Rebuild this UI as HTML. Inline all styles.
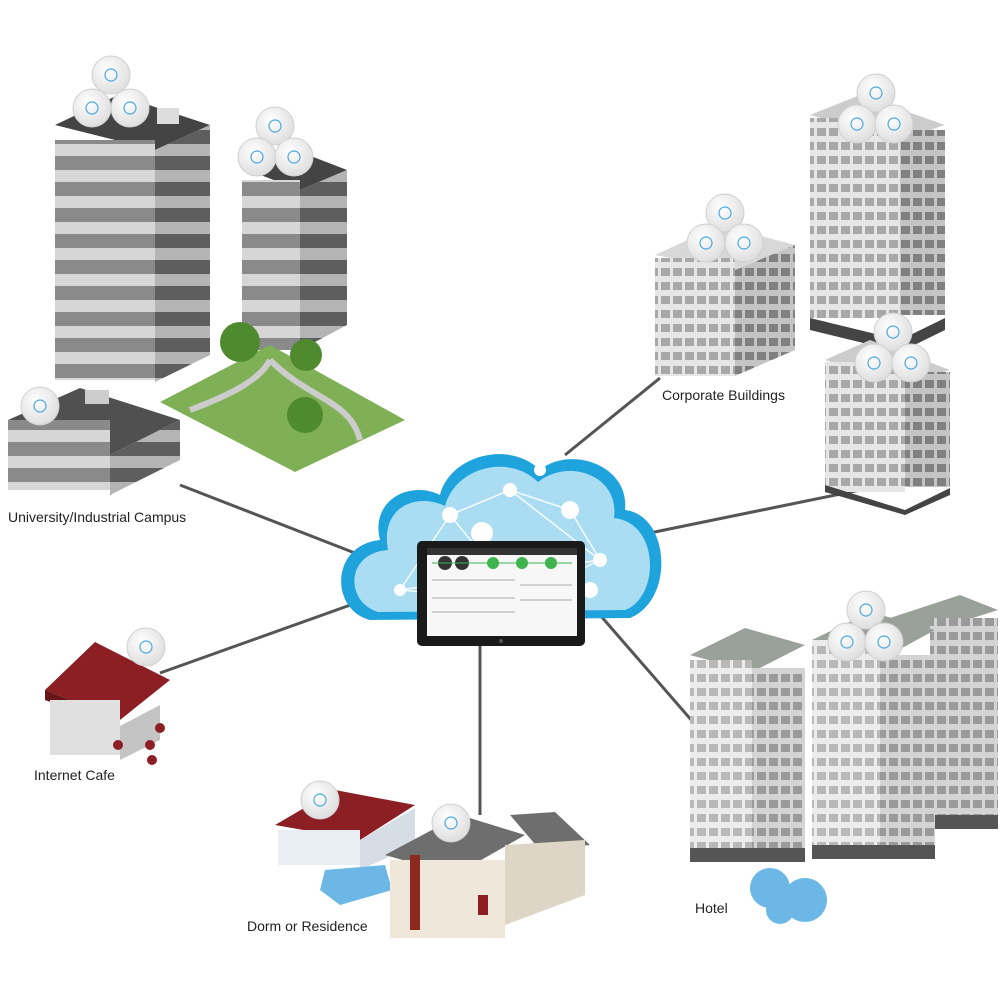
<!DOCTYPE html>
<html><head><meta charset="utf-8"><style>
html,body{margin:0;padding:0;background:#fff;}
svg{display:block;}
text{font-family:"Liberation Sans",sans-serif;font-size:14px;fill:#222;}
</style></head><body>
<svg width="1000" height="1000" viewBox="0 0 1000 1000" xmlns="http://www.w3.org/2000/svg">
<defs>
<pattern id="stripeA" width="10" height="26" patternUnits="userSpaceOnUse"><rect width="10" height="26" fill="#8a8a8a"/><rect y="14" width="10" height="12" fill="#d6d6d6"/></pattern>
<pattern id="stripeB" width="10" height="26" patternUnits="userSpaceOnUse"><rect width="10" height="26" fill="#5e5e5e"/><rect y="14" width="10" height="12" fill="#b4b4b4"/></pattern>
<pattern id="grid" width="12" height="14" patternUnits="userSpaceOnUse"><rect width="12" height="14" fill="#e6e6e6"/><rect x="1" y="2" width="9" height="8" fill="#a8a8a8"/></pattern>
<pattern id="gridD" width="12" height="14" patternUnits="userSpaceOnUse"><rect width="12" height="14" fill="#c4c4c4"/><rect x="1" y="2" width="9" height="8" fill="#808080"/></pattern>
<pattern id="gridL" width="12" height="14" patternUnits="userSpaceOnUse"><rect width="12" height="14" fill="#ececec"/><rect x="1" y="2" width="9" height="8" fill="#b8b8b8"/></pattern>
<pattern id="gridLD" width="12" height="14" patternUnits="userSpaceOnUse"><rect width="12" height="14" fill="#d4d4d4"/><rect x="1" y="2" width="9" height="8" fill="#9a9a9a"/></pattern>
<radialGradient id="apg" cx="0.4" cy="0.35" r="0.7"><stop offset="0" stop-color="#ffffff"/><stop offset="1" stop-color="#dcdcdc"/></radialGradient>
<g id="ap"><circle r="19" fill="url(#apg)" stroke="#d0d0d0" stroke-width="1"/><circle r="6" fill="none" stroke="#4aa8e0" stroke-width="1.2"/></g>
</defs>
<g stroke="#555" stroke-width="3" fill="none">
<line x1="180" y1="485" x2="360" y2="555"/>
<line x1="160" y1="673" x2="370" y2="598"/>
<line x1="480" y1="640" x2="480" y2="815"/>
<line x1="600" y1="615" x2="693" y2="722"/>
<line x1="565" y1="455" x2="660" y2="378"/>
<line x1="640" y1="535" x2="860" y2="490"/>
</g>
<g>
<path d="M370,620 C330,610 330,545 380,540 C370,500 410,480 440,495 C450,455 510,440 540,470 C570,445 630,465 625,510 C670,515 675,600 630,618 Z" fill="#1fa3dc"/>
<path d="M378,612 C345,602 345,553 388,550 C380,508 415,492 445,506 C456,466 510,454 538,482 C568,458 620,475 614,518 C660,523 660,597 625,610 Z" fill="#aadcf2"/>
<g stroke="#fff" stroke-width="1.5" fill="none" opacity="0.9"><path d="M400,590 L450,515 L510,490 L570,510 L600,560 L520,600 Z M450,515 L520,600 M510,490 L600,560 M400,590 L600,560"/></g>
<g fill="#fff"><circle cx="450" cy="515" r="8"/><circle cx="510" cy="490" r="7"/><circle cx="570" cy="510" r="9"/><circle cx="482" cy="533" r="11"/><circle cx="400" cy="590" r="6"/><circle cx="600" cy="560" r="7"/><circle cx="540" cy="470" r="6"/><circle cx="590" cy="590" r="8"/></g>
</g>
<rect x="417" y="541" width="168" height="105" rx="5" fill="#1a1a1a"/>
<rect x="427" y="548" width="150" height="88" fill="#f7f7f7"/>
<rect x="427" y="548" width="150" height="7" fill="#333"/>
<circle cx="445" cy="563" r="7" fill="#333"/><circle cx="462" cy="563" r="7" fill="#333"/>
<circle cx="493" cy="563" r="6" fill="#3fb34f"/><circle cx="522" cy="563" r="6" fill="#3fb34f"/><circle cx="551" cy="563" r="6" fill="#3fb34f"/>
<line x1="432" y1="563" x2="572" y2="563" stroke="#3fb34f" stroke-width="1"/>
<g stroke="#aaa" stroke-width="1"><line x1="432" y1="580" x2="515" y2="580"/><line x1="432" y1="598" x2="515" y2="598"/><line x1="432" y1="612" x2="515" y2="612"/><line x1="520" y1="585" x2="572" y2="585"/><line x1="520" y1="600" x2="572" y2="600"/></g>
<circle cx="501" cy="641" r="2" fill="#555"/>
<polygon points="55,125 118,95 210,125 155,150" fill="#444"/>
<rect x="55" y="140" width="100" height="240" fill="url(#stripeA)"/>
<polygon points="155,150 210,125 210,355 155,382" fill="url(#stripeB)"/>
<rect x="157" y="108" width="22" height="16" fill="#ddd"/>
<polygon points="242,168 290,148 347,170 300,190" fill="#444"/>
<rect x="242" y="180" width="58" height="170" fill="url(#stripeA)"/>
<polygon points="300,190 347,170 347,325 300,350" fill="url(#stripeB)"/>
<polygon points="160,402 270,345 405,420 295,472" fill="#7fb055"/>
<path d="M190,410 C230,395 260,380 270,360 M270,360 C310,400 350,400 360,440" stroke="#ccc" stroke-width="6" fill="none"/>
<g fill="#4f8a2f"><circle cx="240" cy="342" r="20"/><circle cx="306" cy="355" r="16"/><circle cx="305" cy="415" r="18"/></g>
<polygon points="8,420 80,388 180,420 110,455" fill="#505050"/>
<rect x="8" y="420" width="102" height="70" fill="url(#stripeA)"/>
<polygon points="110,455 180,420 180,460 110,495" fill="url(#stripeB)"/>
<rect x="85" y="390" width="24" height="14" fill="#ccc"/>
<polygon points="655,255 720,225 795,245 735,270" fill="#d8d8d8"/>
<rect x="655" y="258" width="80" height="118" fill="url(#grid)"/>
<polygon points="735,270 795,245 795,350 735,376" fill="url(#gridD)"/>
<polygon points="810,115 860,95 945,125 900,140" fill="#ccc"/>
<rect x="810" y="118" width="90" height="200" fill="url(#grid)"/>
<rect x="900" y="130" width="45" height="185" fill="url(#gridD)"/>
<polygon points="810,318 900,340 945,318 945,330 900,352 810,330" fill="#444"/>
<polygon points="825,360 870,340 950,370 905,385" fill="#ccc"/>
<rect x="825" y="362" width="80" height="130" fill="url(#grid)"/>
<rect x="905" y="372" width="45" height="115" fill="url(#gridD)"/>
<polygon points="825,485 905,510 950,488 950,495 905,515 825,492" fill="#444"/>
<polygon points="690,655 745,628 805,645 752,672" fill="#9aa09a"/>
<rect x="690" y="660" width="62" height="190" fill="url(#gridL)"/>
<rect x="752" y="668" width="53" height="180" fill="url(#gridLD)"/>
<rect x="690" y="848" width="115" height="14" fill="#555"/>
<polygon points="890,618 960,595 998,610 935,630" fill="#9aa09a"/>
<rect x="930" y="618" width="68" height="200" fill="url(#gridLD)"/>
<rect x="930" y="815" width="68" height="14" fill="#555"/>
<polygon points="812,640 870,612 935,630 880,660" fill="#9aa09a"/>
<rect x="812" y="640" width="68" height="205" fill="url(#gridL)"/>
<rect x="880" y="655" width="55" height="190" fill="url(#gridLD)"/>
<rect x="812" y="845" width="123" height="14" fill="#555"/>
<g fill="#6cb7e5"><circle cx="770" cy="888" r="20"/><circle cx="805" cy="900" r="22"/><circle cx="780" cy="910" r="14"/></g>
<polygon points="45,690 95,642 170,680 120,720" fill="#8c1f24"/>
<polygon points="45,690 120,720 120,728 45,700" fill="#6a1519"/>
<rect x="50" y="700" width="70" height="55" fill="#e0e0e0"/>
<polygon points="120,726 160,705 160,740 120,760" fill="#c4c4c4"/>
<g fill="#8c1f24"><circle cx="118" cy="745" r="5"/><circle cx="150" cy="745" r="5"/><circle cx="152" cy="760" r="5"/><circle cx="160" cy="728" r="5"/></g>
<polygon points="275,825 335,790 415,805 360,840" fill="#8c1f24"/>
<rect x="278" y="830" width="82" height="35" fill="#e8eef4"/>
<polygon points="360,840 415,808 415,845 360,870" fill="#d6dde4"/>
<polygon points="325,870 385,865 392,890 340,905 320,890" fill="#6cb7e5"/>
<polygon points="385,855 460,815 525,835 455,875" fill="#6e6e6e"/>
<polygon points="510,815 555,812 590,845 540,850" fill="#6e6e6e"/>
<rect x="390" y="860" width="115" height="78" fill="#efe8da"/>
<polygon points="505,845 585,840 585,895 505,925" fill="#ddd5c5"/>
<rect x="410" y="855" width="10" height="75" fill="#8c2a1f"/>
<rect x="478" y="895" width="10" height="20" fill="#8c1f24"/>
<g>
<use href="#ap" x="111" y="75"/><use href="#ap" x="92" y="108"/><use href="#ap" x="130" y="108"/>
<use href="#ap" x="275" y="126"/><use href="#ap" x="257" y="157"/><use href="#ap" x="294" y="157"/>
<use href="#ap" x="40" y="406"/>
<use href="#ap" x="725" y="213"/><use href="#ap" x="706" y="243"/><use href="#ap" x="744" y="243"/>
<use href="#ap" x="876" y="93"/><use href="#ap" x="857" y="124"/><use href="#ap" x="894" y="124"/>
<use href="#ap" x="893" y="332"/><use href="#ap" x="874" y="363"/><use href="#ap" x="911" y="363"/>
<use href="#ap" x="866" y="610"/><use href="#ap" x="847" y="642"/><use href="#ap" x="884" y="642"/>
<use href="#ap" x="146" y="647"/>
<use href="#ap" x="320" y="800"/><use href="#ap" x="451" y="823"/>
</g>
<text x="8" y="522">University/Industrial Campus</text>
<text x="662" y="400">Corporate Buildings</text>
<text x="34" y="780">Internet Cafe</text>
<text x="247" y="931">Dorm or Residence</text>
<text x="695" y="913">Hotel</text>
</svg>
</body></html>
